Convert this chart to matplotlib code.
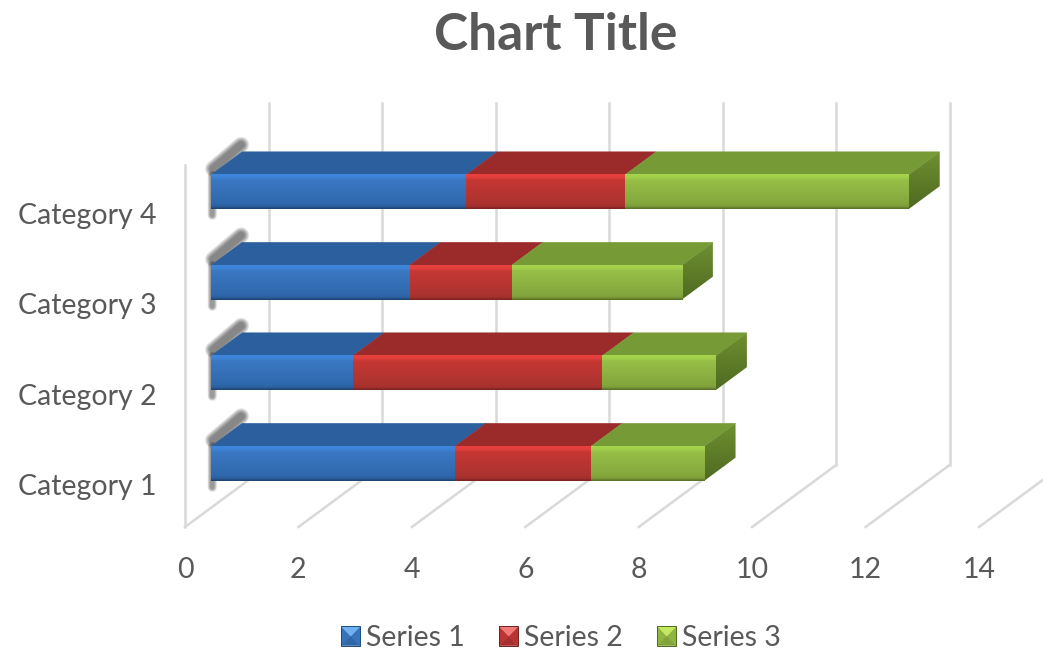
import matplotlib
matplotlib.use("Agg")
import matplotlib.pyplot as plt
import numpy as np
from matplotlib.colors import to_rgb
from matplotlib.legend_handler import HandlerBase
from matplotlib.patches import Patch, Polygon, Rectangle

categories = ["Category 1", "Category 2", "Category 3", "Category 4"]
series_names = ["Series 1", "Series 2", "Series 3"]
series_1 = [4.3, 2.5, 3.5, 4.5]
series_2 = [2.4, 4.4, 1.8, 2.8]
series_3 = [2.0, 2.0, 3.0, 5.0]
x_ticks = [0, 2, 4, 6, 8, 10, 12, 14]

TEXT = "#595959"
GRID = "#d9d9d9"
FONT = "Lato"

# front face stops (top to bottom), top face, side face top/bottom, legend bevel
styles = [
    {"front": ["#3f86dd", "#3e82d6", "#3b78c3", "#2f68ac", "#2b5f9e", "#1c436f"], "top": "#2c5f9e",
     "side": ["#2c5f9e", "#1c436f"], "bevel": ["#6fb0f0", "#3573bd", "#2f66a8", "#1f4a80"]},
    {"front": ["#e8423f", "#e13f3c", "#c63733", "#ab3330", "#a32f2d", "#7a2322"], "top": "#9a2b2a",
     "side": ["#9a2b2a", "#7a2322"], "bevel": ["#f07a78", "#bb3431", "#a62f2d", "#6e2020"]},
    {"front": ["#a6d44c", "#a2ce4b", "#97bf47", "#84a63d", "#7c9b38", "#566f26"], "top": "#769a35",
     "side": ["#6f9030", "#4f6a22"], "bevel": ["#c4e860", "#8eb53f", "#7fa438", "#4f6a22"]},
]

# pixel sizes of one data unit on each axis
PX_X = 56.7
PX_Y = 90.5
# oblique depth of the chart floor, in data units
DEPTH_X = 84 / PX_X
DEPTH_Y = 62 / PX_Y
BAR_HALF = 0.19
BAR_NEAR = 0.31
BAR_FAR = 0.68


def proj(v, y, f):
    """ value / category position / depth fraction to plain axes data """
    return v + DEPTH_X * f, y + DEPTH_Y * f


def gradient(ax, stops, extent, clip=None, zorder=3):
    rgb = np.array([to_rgb(c) for c in stops])
    pos = np.linspace(0, 1, len(stops))
    if len(stops) == 6:
        pos = np.array([0, 0.1, 0.16, 0.85, 0.93, 1])
    t = np.linspace(0, 1, 64)
    arr = np.stack([np.interp(t, pos, rgb[:, i]) for i in range(3)], axis=1)[:, None, :]
    im = ax.imshow(arr, extent=extent, aspect="auto", origin="upper",
                   interpolation="bilinear", zorder=zorder)
    if clip is not None:
        im.set_clip_path(clip)
    im.set_clip_box(ax.figure.bbox)


def soft_stroke(ax, xs, ys, narrow, widest, alpha):
    # blur look: a pile of faint strokes, thicker and thicker
    for lw in np.arange(narrow, widest + 0.1, 0.75):
        ax.plot(xs, ys, color="black", alpha=alpha, lw=lw, solid_capstyle="round",
                solid_joinstyle="round", zorder=2, clip_on=False)


class BevelHandler(HandlerBase):
    def __init__(self, colors):
        super().__init__()
        self.colors = colors

    def create_artists(self, legend, orig_handle, xdescent, ydescent, width, height, fontsize, trans):
        x0, y0 = -xdescent, -ydescent
        x1, y1 = x0 + width, y0 + height
        mx, my = (x0 + x1) / 2, (y0 + y1) / 2
        faces = [
            [(x0, y0), (x0, y1), (mx, my)],
            [(x1, y0), (x1, y1), (mx, my)],
            [(x0, y0), (x1, y0), (mx, my)],
            [(x0, y1), (x1, y1), (mx, my)],
        ]
        cols = [self.colors[1], self.colors[1], self.colors[2], self.colors[0]]
        arts = [Polygon(p, closed=True, facecolor=c, edgecolor=c, linewidth=0.3, transform=trans)
                for p, c in zip(faces, cols)]
        arts.append(Rectangle((x0, y0), width, height, facecolor="none", edgecolor=self.colors[3],
                              linewidth=0.7, transform=trans))
        return arts


fig = plt.figure(figsize=(10.43, 6.5), dpi=100)
ax = fig.add_axes([185 / 1043, 1 - 527 / 650, (979 - 185) / 1043, (527 - 165) / 650])
ax.set_autoscale_on(False)
ax.set_xlim(0, 14)
ax.set_ylim(-0.465, 3.535)
for s in ax.spines.values():
    s.set_visible(False)

ax.set_xticks(x_ticks)
ax.set_yticks(range(len(categories)))
ax.set_yticklabels(categories)
ax.tick_params(axis="x", length=0, pad=21.5, labelsize=20.5, labelcolor=TEXT)
ax.tick_params(axis="y", length=0, pad=20.5, labelsize=20.5, labelcolor=TEXT)
for lab in ax.get_xticklabels() + ax.get_yticklabels():
    lab.set_family(FONT)

# walls and floor
y_lo, y_hi = ax.get_ylim()
ax.plot([0, 0], [y_lo, y_hi], color=GRID, lw=1.8, zorder=1, clip_on=False)
for v in x_ticks:
    xs, ys = proj(v, y_lo, 1)
    ax.plot([v, xs], [y_lo, ys], color=GRID, lw=1.8, zorder=1, clip_on=False)
    if v < 14:
        xt, yt = proj(v, y_hi, 1)
        ax.plot([xs, xt], [ys, yt], color=GRID, lw=1.8, zorder=1, clip_on=False)

values = [series_1, series_2, series_3]
for i in range(len(categories)):
    yc = i + 0.025
    y0, y1 = yc - BAR_HALF, yc + BAR_HALF

    # soft shadow on the left of each bar
    nx, ny = proj(0, y1, BAR_NEAR)
    fx, fy = proj(0, y1, BAR_FAR)
    bx, by = proj(0, y0, BAR_NEAR)
    soft_stroke(ax, [nx + 2 / PX_X, fx - 1 / PX_X], [ny + 6 / PX_Y, fy + 7 / PX_Y], 5, 12, 0.06)
    soft_stroke(ax, [nx + 1 / PX_X, nx + 1 / PX_X], [ny, by - 6 / PX_Y], 3, 7, 0.08)

    left = 0
    for vals, st in zip(values, styles):
        right = left + vals[i]
        # top face
        top = [proj(left, y1, BAR_NEAR), proj(right, y1, BAR_NEAR),
               proj(right, y1, BAR_FAR), proj(left, y1, BAR_FAR)]
        ax.add_patch(Polygon(top, closed=True, facecolor=st["top"], edgecolor=st["top"],
                             linewidth=0.3, zorder=3, clip_on=False))
        # front face
        xa, ya = proj(left, y0, BAR_NEAR)
        xb, yb = proj(right, y1, BAR_NEAR)
        gradient(ax, st["front"], [xa, xb, ya, yb], zorder=4)
        left = right

    # right end of the stack
    st = styles[-1]
    side = [proj(left, y0, BAR_NEAR), proj(left, y1, BAR_NEAR),
            proj(left, y1, BAR_FAR), proj(left, y0, BAR_FAR)]
    patch = Polygon(side, closed=True, facecolor="none", edgecolor="none", transform=ax.transData)
    ax.add_patch(patch)
    patch.set_clip_on(False)
    xs = [p[0] for p in side]
    ys = [p[1] for p in side]
    gradient(ax, st["side"], [min(xs), max(xs), min(ys), max(ys)], clip=patch, zorder=3)

fig.text(556 / 1043, 1 - 35 / 650, "Chart Title", family=FONT, weight="bold", fontsize=37,
         color=TEXT, ha="center", va="center")

handles = [Patch(label=n) for n in series_names]
leg = fig.legend(handles=handles, handler_map={h: BevelHandler(st["bevel"]) for h, st in zip(handles, styles)},
                 loc="center", bbox_to_anchor=(561 / 1043, 1 - 638 / 650), ncol=3, frameon=False,
                 prop={"family": FONT, "size": 20.5}, labelcolor=TEXT, handlelength=0.66,
                 handleheight=0.66, handletextpad=0.2, columnspacing=1.22, borderpad=0, borderaxespad=0)

fig.savefig("out.png", dpi=100)
